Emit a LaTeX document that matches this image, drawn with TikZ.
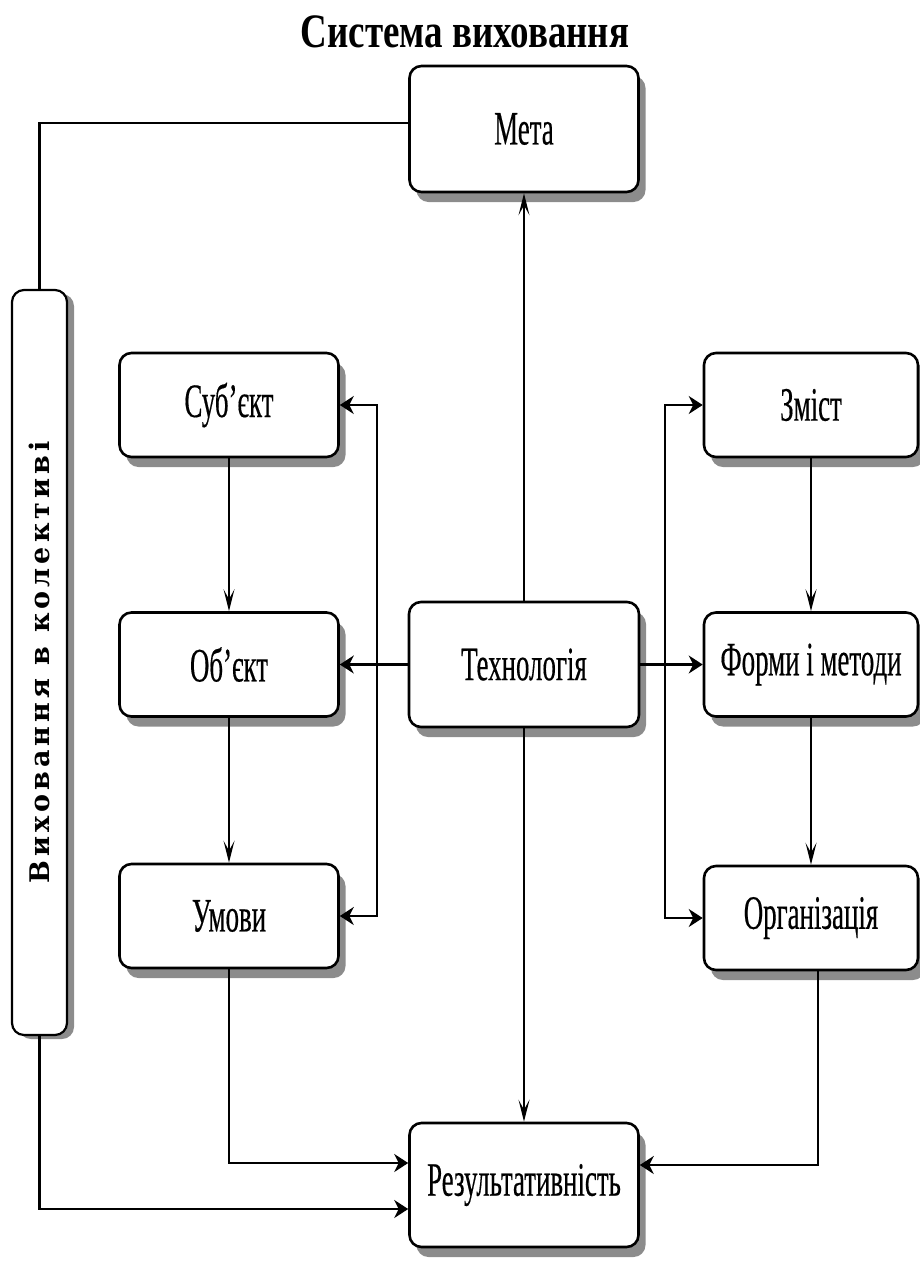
\documentclass[tikz,border=0pt]{standalone}
\usepackage{fontspec}
\usepackage{graphicx}
\setmainfont{Liberation Serif}
\newfontfamily\boxfont[FakeStretch=0.56,FakeBold=0.3]{Liberation Serif}
\newfontfamily\titlefont[FakeStretch=0.77]{Liberation Serif}
\newfontfamily\sidefont[LetterSpace=15]{DejaVu Serif}
\usepackage{tikz}
\usetikzlibrary{arrows.meta,shadows}
\tikzset
{
    blocknode/.style = {rectangle, rounded corners=12pt, draw=black, line width=2.6pt, fill=white, align=center, inner sep=0pt, minimum width=219pt, minimum height=104pt, drop shadow={shadow xshift=7pt, shadow yshift=-10pt, fill=black!45, opacity=1}, font=\boxfont\fontsize{48}{52}\selectfont},
    sidenode/.style  = {rectangle, rounded corners=12pt, draw=black, line width=2.2pt, fill=white, inner sep=0pt, minimum width=55pt, minimum height=745pt, drop shadow={shadow xshift=7pt, shadow yshift=-4pt, fill=black!45, opacity=1}, font=\sidefont\bfseries\fontsize{27}{30}\selectfont},
    titlenode/.style = {inner sep=0pt, font=\titlefont\bfseries\fontsize{48}{52}\selectfont},
    boldline/.style  = {line width=2.8pt},
    thinline/.style  = {line width=1.4pt, -{Stealth[length=22pt,width=11pt,inset=10pt]}}
}

\begin{document}
\begin{tikzpicture}[->,>={Stealth[length=14pt,width=18pt]}, x=1pt, y=-1pt]
    \useasboundingbox (0,0) rectangle (920,1262);
    \node [titlenode, anchor=base] (title) at (465,47) {Система виховання};

    \node [blocknode, minimum width=229pt, minimum height=126pt] (meta) at (524,129) {Мета};
    \node [blocknode, minimum width=230pt, minimum height=125pt] (tech) at (524,664.5) {Технологія};
    \node [blocknode, minimum width=229pt, minimum height=124pt] (result) at (524,1185) {Результативність};

    \node [blocknode] (subject) at (229,405) {Суб’єкт};
    \node [blocknode] (object) at (229,664.5) {Об’єкт};
    \node [blocknode] (umovy) at (229,916) {Умови};

    \node [blocknode, minimum width=214pt] (zmist) at (811,405) {Зміст};
    \node [blocknode, minimum width=214pt] (formy) at (811,664.5) {Форми і методи};
    \node [blocknode, minimum width=214pt] (orhanizatsiia) at (811,918) {Організація};

    \node [sidenode] (collective) at (39.5,662.5) {\rotatebox{90}{Виховання в колективі}};

    \coordinate (leftbar) at (377,660);
    \coordinate (rightbar) at (665,660);

    \draw [-, line width=2.4pt] ([yshift=6pt]meta.west) -| (collective.north);
    \draw [boldline] (collective.south) |- ([yshift=-24pt]result.west);
    \draw [boldline] (umovy.south) |- ([yshift=22pt]result.west);
    \draw [boldline] ([xshift=7pt]orhanizatsiia.south) |- ([yshift=20pt]result.east);

    \draw [thinline] (tech) -- (meta);
    \draw [thinline] (tech) -- (result);
    \draw [boldline] (tech) -- (object);
    \draw [boldline] (tech) -- (formy);

    \draw [boldline, <->] (subject.east) -| (leftbar) |- (umovy.east);
    \draw [boldline, <->] (zmist.west) -| (rightbar) |- (orhanizatsiia.west);

    \draw [thinline] (subject) -- (object);
    \draw [thinline] (object) -- (umovy);
    \draw [thinline] (zmist) -- (formy);
    \draw [thinline] (formy) -- (orhanizatsiia);
\end{tikzpicture}
\end{document}
